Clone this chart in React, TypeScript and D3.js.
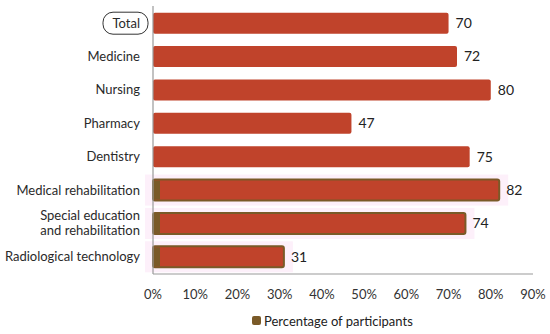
import React from "react";
import * as d3 from "d3";

const categories = [
  "Total",
  "Medicine",
  "Nursing",
  "Pharmacy",
  "Dentistry",
  "Medical rehabilitation",
  "Special education|and rehabilitation",
  "Radiological technology",
];
const values = [70, 72, 80, 47, 75, 82, 74, 31];
const highlighted = [false, false, false, false, false, true, true, true];
const ticks = [0, 10, 20, 30, 40, 50, 60, 70, 80, 90];

const W = 550;
const H = 334;
const margin = { top: 6, right: 16, bottom: 60, left: 153 };
const BAR = "#C0432B";
const OLIVE = "#7A5A28";
const FONT = "Lato, 'Open Sans', sans-serif";

export default function App() {
  const x = d3.scaleLinear().domain([0, 90]).range([margin.left, 533]);
  const y = d3
    .scaleBand()
    .domain(categories)
    .range([margin.top, H - margin.bottom])
    .paddingInner(0.37)
    .paddingOuter(0.2);
  const base = H - margin.bottom;

  return (
    <svg
      width={W}
      height={H}
      style={{ position: "absolute", left: 0, top: 0, fontFamily: FONT }}
    >
      <rect width={W} height={H} fill="#fff" />
      {categories.map((c, i) => {
        const y0 = y(c)!;
        const bw = y.bandwidth();
        const lines = c.split("|");
        return (
          <g key={c}>
            {highlighted[i] && (
              <rect
                x={145}
                y={y0 - 5}
                width={x(values[i]) - 145 + 9}
                height={bw + 10}
                fill="#fdf0fa"
              />
            )}
            <rect
              x={x(0)}
              y={y0}
              width={x(values[i]) - x(0)}
              height={bw}
              rx={2}
              fill={BAR}
              stroke={highlighted[i] ? OLIVE : "none"}
              strokeWidth={2}
            />
            {highlighted[i] && (
              <rect x={x(0) + 1} y={y0 + 1} width={6} height={bw - 2} fill={OLIVE} />
            )}
            <text
              x={x(values[i]) + 7}
              y={y0 + bw / 2}
              dy="0.35em"
              fontSize={14}
              fill="#222"
            >
              {values[i]}
            </text>
            {lines.map((l, k) => (
              <text
                key={k}
                x={140}
                y={y0 + bw / 2 + (k - (lines.length - 1) / 2) * 15}
                dy="0.35em"
                textAnchor="end"
                fontSize={13}
                fill="#2a2a2a"
              >
                {l}
              </text>
            ))}
            {i === 0 && (
              <rect
                x={103}
                y={y0 + bw / 2 - 11}
                width={45}
                height={22}
                rx={10}
                fill="none"
                stroke="#333"
                strokeWidth={1}
              />
            )}
          </g>
        );
      })}
      <line x1={x(0)} x2={x(0)} y1={margin.top} y2={base} stroke="#999" strokeWidth={1.2} />
      <line x1={x(0)} x2={533} y1={base} y2={base} stroke="#999" strokeWidth={1.2} />
      {ticks.map((t) => (
        <text
          key={t}
          x={x(t)}
          y={base + 25}
          textAnchor="middle"
          fontSize={13}
          fill="#333"
        >
          {t}%
        </text>
      ))}
      <rect x={252} y={316} width={9} height={9} rx={2} fill={OLIVE} />
      <text x={264} y={321} dy="0.35em" fontSize={13} fill="#222">
        Percentage of participants
      </text>
    </svg>
  );
}
